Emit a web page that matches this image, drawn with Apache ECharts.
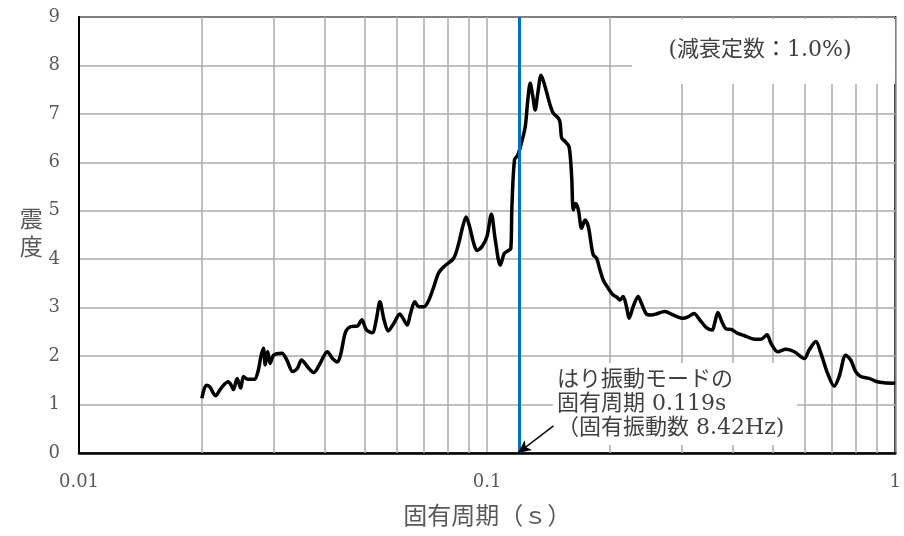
<!DOCTYPE html>
<html>
<head>
<meta charset="utf-8">
<script src="https://cdn.jsdelivr.net/npm/echarts@6/dist/echarts.min.js"></script>
<style>
  html, body { margin: 0; padding: 0; background: #fff; }
  #chart { width: 904px; height: 536px; }
</style>
</head>
<body>
<div id="chart"></div>
<script>
// 固有周期 (s)
const periods = [
  0.0200, 0.0205, 0.0209, 0.0216, 0.0223, 0.0232, 0.0236, 0.0239, 0.0244, 0.0249,
  0.0253, 0.0259, 0.0269, 0.0275, 0.0279, 0.0283, 0.0286, 0.0290, 0.0294, 0.0300,
  0.0314, 0.0323, 0.0334, 0.0343, 0.0351, 0.0363, 0.0376, 0.0388, 0.0406, 0.0418,
  0.0430, 0.0438, 0.0450, 0.0463, 0.0481, 0.0493, 0.0506, 0.0523, 0.0535, 0.0546,
  0.0559, 0.0572, 0.0591, 0.0611, 0.0625, 0.0637, 0.0649, 0.0665, 0.0680, 0.0700,
  0.0720, 0.0740, 0.0761, 0.0787, 0.0828, 0.0852, 0.0871, 0.0888, 0.0906, 0.0927,
  0.0944, 0.0971, 0.0999, 0.1024, 0.1047, 0.1077, 0.1102, 0.1128, 0.1143, 0.1150,
  0.1167, 0.1189, 0.1216, 0.1240, 0.1258, 0.1275, 0.1294, 0.1311, 0.1331, 0.1356,
  0.1387, 0.1427, 0.1454, 0.1495, 0.1510, 0.1523, 0.1553, 0.1588, 0.1611, 0.1626,
  0.1648, 0.1673, 0.1704, 0.1737, 0.1770, 0.1797, 0.1820, 0.1854, 0.1890, 0.1925,
  0.1980, 0.2037, 0.2075, 0.2115, 0.2154, 0.2195, 0.2228, 0.2279, 0.2344, 0.2388,
  0.2456, 0.2526, 0.2598, 0.2724, 0.2854, 0.3020, 0.3106, 0.3212, 0.3317, 0.3443,
  0.3561, 0.3609, 0.3676, 0.3760, 0.3852, 0.3961, 0.4114, 0.4272, 0.4519, 0.4690,
  0.4851, 0.4961, 0.5151, 0.5397, 0.5658, 0.5984, 0.6155, 0.6389, 0.6571, 0.6823,
  0.7085, 0.7287, 0.7562, 0.7778, 0.8001, 0.8229, 0.8626, 0.9036, 0.9384, 1.0000
];

// 震度
const intensity = [
  1.13, 1.40, 1.37, 1.18, 1.34, 1.47, 1.40, 1.31, 1.54, 1.34,
  1.58, 1.52, 1.52, 1.71, 1.99, 2.16, 1.82, 2.09, 1.85, 2.02,
  2.06, 1.92, 1.68, 1.75, 1.92, 1.78, 1.66, 1.82, 2.09, 1.95,
  1.88, 2.05, 2.50, 2.61, 2.62, 2.75, 2.54, 2.48, 2.75, 3.12,
  2.75, 2.52, 2.68, 2.87, 2.75, 2.64, 2.88, 3.12, 3.02, 3.02,
  3.16, 3.43, 3.72, 3.86, 4.02, 4.33, 4.67, 4.87, 4.67, 4.33,
  4.18, 4.26, 4.47, 4.93, 4.40, 3.88, 4.12, 4.18, 4.22, 5.08,
  6.05, 6.15, 6.43, 6.74, 7.29, 7.63, 7.36, 7.08, 7.43, 7.80,
  7.56, 7.18, 7.01, 6.91, 6.81, 6.50, 6.43, 6.32, 5.70, 5.02,
  5.15, 5.02, 4.64, 4.81, 4.67, 4.33, 4.09, 4.02, 3.78, 3.57,
  3.40, 3.26, 3.22, 3.16, 3.23, 3.02, 2.78, 3.02, 3.23, 3.09,
  2.87, 2.85, 2.87, 2.92, 2.85, 2.78, 2.81, 2.88, 2.75, 2.59,
  2.54, 2.68, 2.90, 2.71, 2.56, 2.55, 2.47, 2.42, 2.35, 2.35,
  2.44, 2.26, 2.09, 2.14, 2.09, 1.95, 2.13, 2.30, 2.06, 1.65,
  1.38, 1.58, 2.02, 1.92, 1.68, 1.58, 1.54, 1.47, 1.45, 1.44
];

// 縦の補助目盛線
const minorGrid = [0.02, 0.03, 0.04, 0.05, 0.06, 0.07, 0.08, 0.09,
                   0.2, 0.3, 0.4, 0.5, 0.6, 0.7, 0.8, 0.9];

// はり振動モードの固有周期と矢印の始点
const modePeriod = 0.119;
const arrowFrom = [0.1454, 0.56];

const font = '"DejaVu Serif", "Noto Sans CJK JP", serif';
const gridColor = '#ababab';
const labelColor = '#595959';
const noteColor = '#404040';

const chart = echarts.init(document.getElementById('chart'));

// 注記テキスト
const note = (text, x, y, align) => ({
  type: 'text', z: 3, silent: true, x: x, y: y,
  style: { text: text, fill: noteColor, font: '22px ' + font, align: align || 'left', verticalAlign: 'middle' }
});

const option = {
  animation: false,
  backgroundColor: '#fff',
  grid: {
    left: 79, right: 6, top: 17, bottom: 83,
    show: true,
    borderColor: '#000',
    borderWidth: 2,
    containLabel: false
  },
  xAxis: {
    type: 'log',
    logBase: 10,
    min: 0.01,
    max: 1,
    name: '固有周期（ｓ）',
    nameLocation: 'middle',
    nameGap: 53,
    nameTextStyle: { color: labelColor, fontSize: 24, fontFamily: font },
    axisLine: { show: true, lineStyle: { color: '#000', width: 2.5 } },
    axisTick: { show: false },
    axisLabel: {
      color: labelColor, fontSize: 18, fontFamily: font, margin: 20,
      formatter: (v) => (v >= 1 ? '1' : v >= 0.1 ? '0.1' : '0.01')
    },
    splitLine: { show: true, lineStyle: { color: gridColor, width: 1.5 } }
  },
  yAxis: {
    type: 'value',
    min: 0,
    max: 9,
    interval: 1,
    name: '震\n度',
    nameLocation: 'middle',
    nameRotate: 0,
    nameGap: 33,
    nameTextStyle: { color: labelColor, fontSize: 23, fontFamily: font, lineHeight: 28 },
    axisLine: { show: true, lineStyle: { color: '#000', width: 2 } },
    axisTick: { show: false },
    axisLabel: { color: labelColor, fontSize: 18, fontFamily: font, margin: 19 },
    splitLine: { show: true, lineStyle: { color: gridColor, width: 1.5 } }
  },
  graphic: [
    {
      type: 'rect', z: 2, silent: true,
      shape: { x: 632, y: 19, width: 263, height: 65 },
      style: { fill: '#fff' }
    },
    note('(減衰定数：1.0%)', 760, 50, 'center'),
    {
      type: 'rect', z: 2, silent: true,
      shape: { x: 553, y: 363, width: 244, height: 82 },
      style: { fill: '#fff' }
    },
    note('はり振動モードの', 557, 380),
    note('固有周期 0.119s', 557, 404),
    note('（固有振動数 8.42Hz)', 557, 428)
  ],
  series: [
    {
      // 補助目盛線
      type: 'line',
      z: 1,
      data: [],
      silent: true,
      markLine: {
        z: 1,
        silent: true,
        symbol: ['none', 'none'],
        label: { show: false },
        lineStyle: { color: gridColor, width: 1.5, type: 'solid' },
        data: minorGrid.map((v) => ({ xAxis: v }))
      }
    },
    {
      // 注記の矢印
      type: 'line',
      z: 4,
      data: [],
      silent: true,
      clip: false,
      markLine: {
        z: 6,
        silent: true,
        symbol: ['none', 'arrow'],
        symbolSize: [9, 13],
        label: { show: false },
        lineStyle: { color: '#000', width: 1.5, type: 'solid' },
        data: [[{ coord: arrowFrom }, { coord: [modePeriod, 0] }]]
      }
    },
    {
      name: '震度',
      type: 'line',
      z: 4,
      data: periods.map((p, i) => [p, intensity[i]]),
      showSymbol: false,
      smooth: 0.3,
      lineStyle: { color: '#000', width: 3.5 },
      markLine: {
        z: 5,
        silent: true,
        symbol: ['none', 'none'],
        label: { show: false },
        lineStyle: { color: '#0070C0', width: 3, type: 'solid' },
        data: [{ xAxis: modePeriod }]
      }
    }
  ]
};

chart.setOption(option);
</script>
</body>
</html>
